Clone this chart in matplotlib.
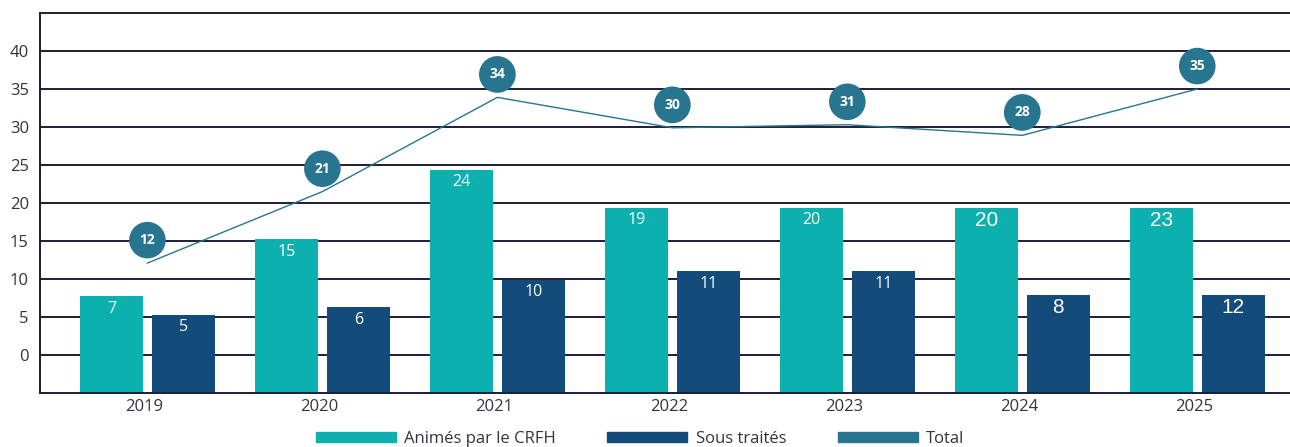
import matplotlib
matplotlib.use("Agg")
import matplotlib.pyplot as plt
from matplotlib.patches import Patch
import numpy as np

# ---- data ----
years = ["2019", "2020", "2021", "2022", "2023", "2024", "2025"]
animes_bar = [7.7, 15.2, 24.4, 19.4, 19.4, 19.4, 19.4]     # bar heights
sous_bar = [5.3, 6.3, 9.9, 11.0, 11.0, 7.9, 7.9]
animes_labels = ["7", "15", "24", "19", "20", "20", "23"]
sous_labels = ["5", "6", "10", "11", "11", "8", "12"]
total_line = [12.1, 21.5, 33.9, 29.9, 30.3, 28.9, 35.0]
total_labels = ["12", "21", "34", "30", "31", "28", "35"]
series_names = ["Animés par le CRFH", "Sous traités", "Total"]
yticks = [0, 5, 10, 15, 20, 25, 30, 35, 40]

TEAL = "#0CB0AE"
NAVY = "#134B7A"
LINEC = "#27758F"
GRID = "#1d1d3b"
TXT = "#333340"

W, H = 1290, 447
fig = plt.figure(figsize=(W / 100, H / 100), dpi=100)
ax = fig.add_axes([40 / W, (447 - 393) / H, 1 - 40 / W, (393 - 13) / H])

x = np.arange(len(years))
base = -5
bw = 0.36
off = 0.206

for yv in yticks:
    ax.axhline(yv, color=GRID, lw=1.4, zorder=1)

ax.bar(x - off, np.array(animes_bar) - base, bottom=base, width=bw,
       color=TEAL, zorder=2)
ax.bar(x + off, np.array(sous_bar) - base, bottom=base, width=bw,
       color=NAVY, zorder=2)

ax.plot(x, total_line, color=LINEC, lw=1.0, zorder=3)

for i in range(len(years)):
    big = i >= 5
    fam = "Liberation Sans" if big else "Open Sans"
    fs = 15 if big else 11.5
    ax.annotate(animes_labels[i], (x[i] - off, animes_bar[i]), xytext=(0, -9),
                textcoords="offset points", ha="center", va="center",
                color="white", fontsize=fs, family=fam, zorder=4)
    ax.annotate(sous_labels[i], (x[i] + off, sous_bar[i]), xytext=(0, -9),
                textcoords="offset points", ha="center", va="center",
                color="white", fontsize=fs, family=fam, zorder=4)
    ax.annotate(total_labels[i], (x[i], total_line[i]), xytext=(0, 16.5),
                textcoords="offset points", ha="center", va="center",
                color="white", fontsize=10, fontweight="bold", family="Open Sans",
                zorder=5,
                bbox=dict(boxstyle="circle,pad=0.75", fc=LINEC, ec="none"))

ax.set_xlim(-0.614, 6.53)
ax.set_ylim(-5, 45)
ax.set_yticks(yticks)
ax.set_yticklabels([str(v) for v in yticks], family="Open Sans", fontsize=12, color=TXT)
ax.set_xticks(x - 0.02)
ax.set_xticklabels(years, family="Open Sans", fontsize=12, color=TXT)
ax.tick_params(axis="both", length=0)
ax.tick_params(axis="y", pad=8)
ax.tick_params(axis="x", pad=4)

ax.spines["right"].set_visible(False)
for s in ["left", "top", "bottom"]:
    ax.spines[s].set_color(GRID)
    ax.spines[s].set_linewidth(1.4)

handles = [Patch(color=TEAL), Patch(color=NAVY), Patch(color=LINEC)]
fig.legend(handles, series_names, loc="center", bbox_to_anchor=(640 / W, 1 - 439 / H),
           ncol=3, frameon=False, handlelength=4.8, handleheight=0.5,
           handletextpad=0.5, columnspacing=3.1, borderpad=0,
           prop=dict(family="Open Sans", size=12), labelcolor=TXT)

fig.savefig("out.png", dpi=100)
